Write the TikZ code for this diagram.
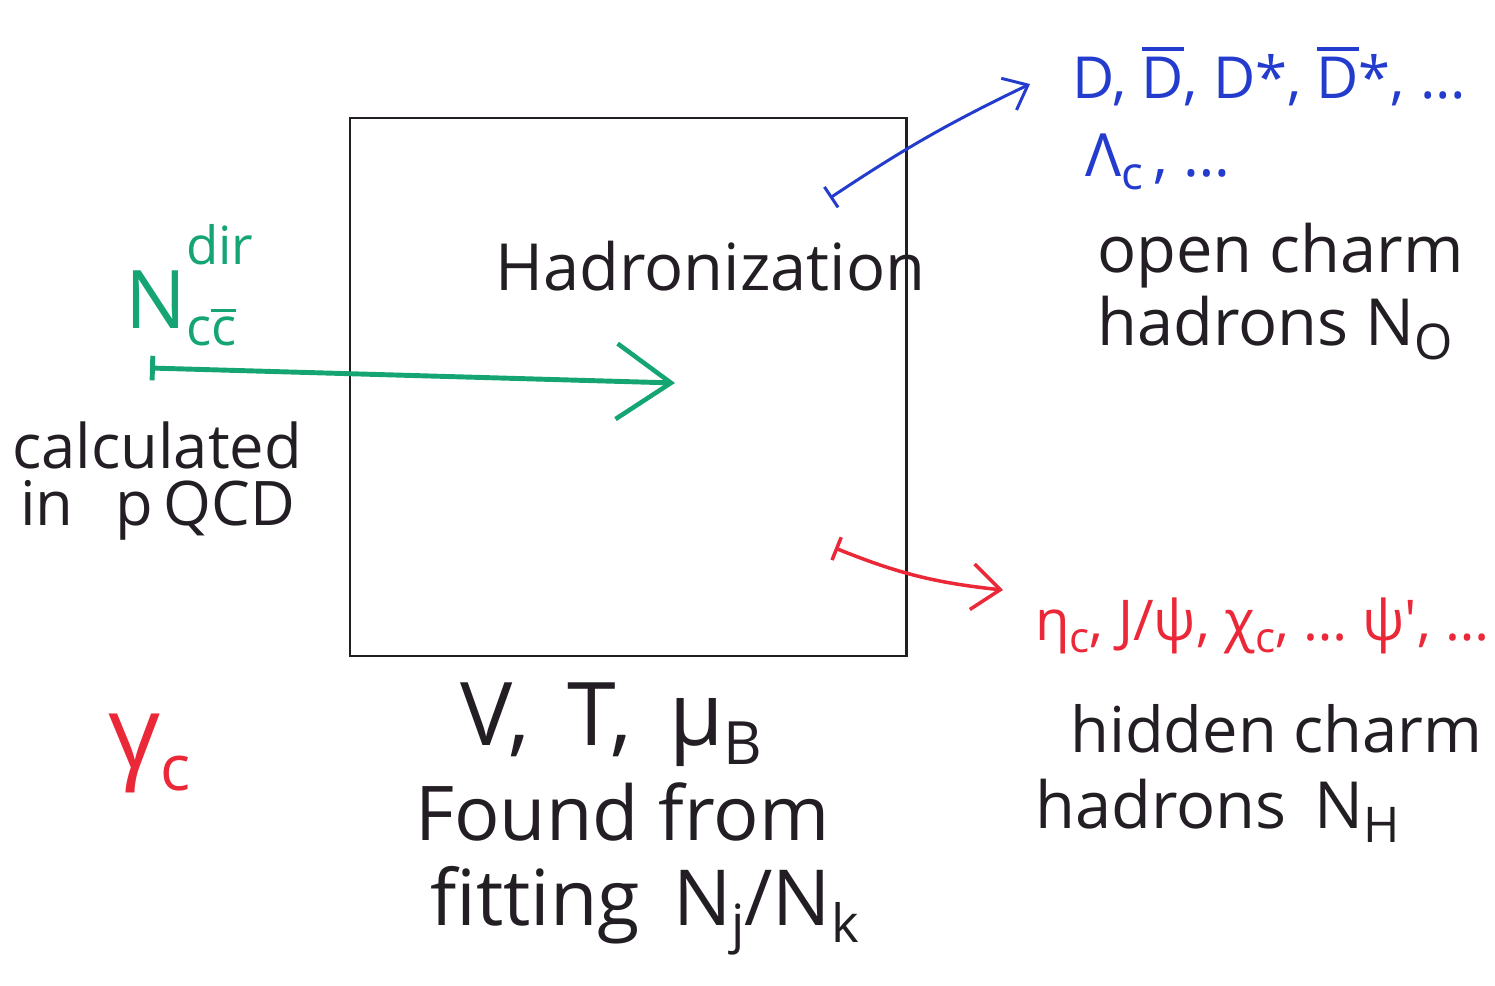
\documentclass[tikz,border=0pt]{standalone}
\usepackage{fontspec}
\setmainfont{Open Sans}
\usetikzlibrary{arrows.meta,calc}

\definecolor{inkblack}{RGB}{35,30,35}
\definecolor{inkgreen}{RGB}{20,165,115}
\definecolor{inkblue}{RGB}{35,60,205}
\definecolor{inkred}{RGB}{235,40,55}

% bar over a symbol (anti-particles)
\newcommand\ovbar[1]{\vbox{\hrule height .07em \kern .09em \hbox{#1}}}
% lowered / raised indices with a given font size
\newcommand\lowidx[2]{\raisebox{-.22em}{\fontsize{#1}{#1}\selectfont #2}}
\newcommand\upidx[3]{\raisebox{#1}{\fontsize{#2}{#2}\selectfont #3}}
\newcommand\fs[1]{\fontsize{#1}{#1}\selectfont}

\tikzset{
  hand/.style={inner sep=0pt, anchor=base west, text=inkblack},
  boxline/.style={draw=inkblack, line width=1.2pt},
}

\begin{document}
\begin{tikzpicture}[x=0.02cm, y=-0.02cm]
  \useasboundingbox (0,0) rectangle (1495,985);

  % central box
  \node[boxline, minimum width=11.14cm, minimum height=10.76cm, inner sep=0pt]
    (box) at (628,387) {};
  \node[hand, font=\fs{37}] (hadr) at (495,290) {Hadronization};

  % direct charm quark pairs entering the box
  \node[hand, text=inkgreen, font=\fs{46}] (ncc) at (125,328)
    {N\makebox[0pt][l]{\upidx{.78em}{30}{dir}}\lowidx{30}{c\ovbar{c}}};
  \coordinate (gstart) at (150,368);
  \coordinate (gend) at (675,383);
  \draw[inkgreen, line width=2.8pt,
        {Bar[width=14pt]}-{Straight Barb[length=31pt, width=43pt, line width=2.6pt]}]
    (gstart) -- (gend);

  \node[hand, font=\fs{35}] (calc) at (12,468) {calculated};
  \node[hand, font=\fs{35}] (pqcd) at (20,525) {in\ \ \,p\,QCD};

  % open charm hadrons
  \coordinate (bstart) at (830,198);
  \coordinate (bend) at (1030,84);
  \node[hand, text=inkblue, font=\fs{33}] (dmes) at (1072,98)
    {D, \ovbar{D}, D*, \ovbar{D}*, …};
  \node[hand, text=inkblue, font=\fs{34}] (lamc) at (1085,176)
    {Λ\lowidx{26}{c}\,, …};
  \draw[inkblue, line width=1.7pt,
        {Bar[width=14pt]}-{Straight Barb[length=12pt, width=20pt]}]
    (bstart) to[bend left=4] (bend);

  \node[hand, font=\fs{37}] (open1) at (1097,272) {open charm};
  \node[hand, font=\fs{37}] (open2) at (1097,345) {hadrons N\lowidx{28}{O}};

  % hidden charm hadrons
  \coordinate (rstart) at (835,548);
  \coordinate (rend) at (1003,590);
  \node[hand, text=inkred, font=\fs{32}] (hid) at (1035,640)
    {η\lowidx{24}{c}, J/ψ, χ\lowidx{24}{c}, … ψ′, …};
  \draw[inkred, line width=2pt,
        {Bar[width=14pt]}-{Straight Barb[length=16pt, width=26pt]}]
    (rstart) to[bend right=8] (rend);

  \node[hand, font=\fs{36}] (hid1) at (1070,752) {hidden charm};
  \node[hand, font=\fs{37}] (hid2) at (1035,828) {hadrons\, N\lowidx{28}{H}};

  % charm fugacity
  \node[hand, text=inkred, font=\fs{58}] (gam) at (108,768) {γ\lowidx{36}{c}};

  % thermal parameters
  \node[hand, font=\fs{50}] (vtmu) at (460,745) {V,\, T,\, μ\lowidx{34}{B}};
  \node[hand, font=\fs{43}] (fnd) at (415,840) {Found from};
  \node[hand, font=\fs{44}] (fit) at (430,925) {fitting\, N\lowidx{30}{j}/N\lowidx{30}{k}};
\end{tikzpicture}
\end{document}
